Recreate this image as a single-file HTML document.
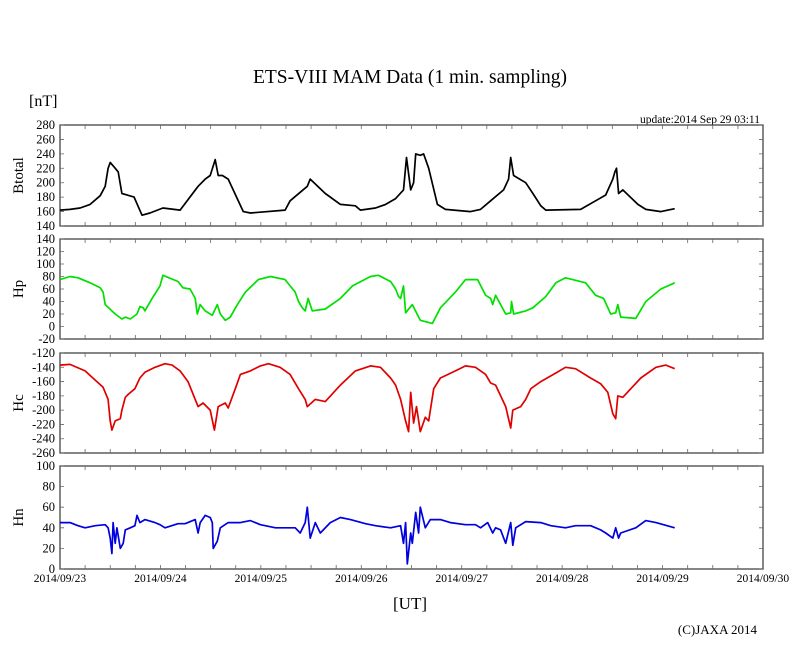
<!DOCTYPE html>
<html><head><meta charset="utf-8"><style>
html,body{margin:0;padding:0;background:#fff;}
svg{display:block;font-family:"Liberation Serif",serif;}
</style></head><body>
<svg id="chart" width="810" height="655" viewBox="0 0 810 655" xmlns="http://www.w3.org/2000/svg">
<text x="410" y="83" font-size="19.5" text-anchor="middle">ETS-VIII MAM Data (1 min. sampling)</text>
<text x="29" y="106" font-size="16">[nT]</text>
<text x="760" y="123" font-size="11.5" text-anchor="end">update:2014 Sep 29 03:11</text>
<text x="410" y="609" font-size="17" text-anchor="middle">[UT]</text>
<text x="757" y="634" font-size="13" text-anchor="end">(C)JAXA 2014</text>
<g id="plots"></g>
</svg>
<script>
const xDates = ["2014/09/23","2014/09/24","2014/09/25","2014/09/26","2014/09/27","2014/09/28","2014/09/29","2014/09/30"];
const btTimes = [0,2.4,4.8,7.2,9.6,10.8,11.5,12,12.9,13.9,14.8,17.7,19.6,21.5,24.6,28.7,33,34.7,35.9,37.1,37.8,38.8,40.2,43.8,45.5,53.8,55,59.1,59.8,63.4,67,70.6,71.8,75.4,77.8,80.2,82.1,82.8,83.8,84.5,85,86.1,86.9,88.1,90.2,92.1,98.1,100.5,102.9,106,107.2,107.7,108.4,111.3,113,114.9,116.1,124.4,128,130.4,132.1,132.6,133,133.5,134.5,138.1,140,143.6,146.9];
const btValues = [162,163,165,170,182,195,220,228,222,215,185,180,155,158,165,162,195,205,210,232,210,210,205,160,158,162,175,195,205,185,170,168,162,165,170,178,190,235,190,200,240,238,240,220,170,163,160,163,175,190,205,235,210,200,185,168,162,163,175,183,205,215,220,185,190,170,163,160,164];
const hpTimes = [0,2.4,4.3,7.2,9.6,10.3,10.8,13.2,14.8,15.6,16.8,18.4,19.1,19.9,20.3,22,23.9,24.6,28.2,29.4,31.1,32.3,32.8,33.5,34.7,36.4,37.6,38.3,39.5,40.7,42.4,44.3,47.4,50.3,53.8,55,56.2,57,57.9,58.6,59.3,60.3,63.4,67,69.9,74.2,76.1,79,80.2,80.9,81.4,82.1,82.6,84.2,86.1,89,90.9,94.5,96.9,99.8,101.7,102.9,103.4,104.1,106.5,107.7,107.9,108.4,111.3,113,116.1,118.5,120.8,125.6,128,129.9,131.6,132.8,133.3,134,137.6,140,143.6,146.9];
const hpValues = [75,80,78,70,62,55,35,20,12,15,12,20,32,30,25,45,65,82,72,62,60,45,20,35,25,18,35,20,10,15,35,55,75,80,75,65,55,40,30,25,45,25,28,45,65,80,82,72,60,48,45,65,22,35,10,5,30,55,75,75,50,45,35,50,20,22,40,20,25,30,48,70,78,70,50,45,20,22,35,15,13,40,60,70];
const hcTimes = [0,2.4,6,8.4,10.3,11.5,12,12.4,13.2,14.4,14.8,15.6,16.3,17.9,19.1,20.3,22.7,25.1,26.8,28.7,30.6,32.3,33,34.2,35.9,36.9,37.8,39.5,40.2,41.9,43.1,45.5,47.9,49.8,52.6,55,57,58.6,59.1,61,63.4,67,70.6,74.2,76.6,79,80.2,81.4,82.6,83.3,83.8,84.5,85.2,86.1,87.3,88.1,89.3,90.9,94.5,96.9,99.3,101.7,102.9,104.1,106.5,107.7,108.2,110.1,111.3,112.5,114.9,118.5,120.8,123.2,126.8,129.2,130.9,132.1,132.8,133.3,134.5,138.8,142.4,144.8,146.9];
const hcValues = [-137,-136,-145,-158,-168,-185,-215,-228,-215,-212,-200,-182,-178,-170,-155,-147,-140,-135,-137,-145,-160,-185,-195,-190,-200,-228,-195,-190,-197,-170,-150,-145,-138,-135,-140,-150,-170,-185,-195,-185,-188,-165,-145,-138,-140,-155,-165,-185,-215,-230,-175,-218,-195,-230,-210,-215,-170,-155,-145,-138,-140,-150,-162,-165,-195,-225,-200,-195,-185,-170,-160,-148,-140,-142,-155,-163,-175,-205,-212,-180,-182,-155,-140,-137,-142];
const hnTimes = [0,2.4,4.3,6,8.4,10.8,11.5,12,12.4,12.7,13.2,13.6,14.4,15.1,15.6,16.8,17.9,18.4,19.1,20.3,22.7,23.9,25.1,28.2,29.9,32.3,33,33.5,34.7,35.9,36.4,36.6,37.6,38.3,40.2,43.1,45.5,47.9,51.5,53.8,56.2,57.4,58.6,59.1,59.8,61,62.2,64.6,67,69.4,73,75.4,79,81.4,82.1,82.6,83,83.8,84.2,85,85.7,86.1,87.3,88.5,90.9,93.3,96.9,99.3,100.5,102.2,103.4,104.1,105.3,106.5,107.7,108.2,108.9,111.3,114.9,117.3,120.8,123.2,126.8,129.2,130.4,132.1,132.8,133.5,134,137.6,140,142.4,146.9];
const hnValues = [45,45,42,40,42,43,40,30,15,45,25,40,20,25,38,40,42,52,45,48,45,43,40,44,44,48,35,45,52,50,45,20,27,40,45,45,47,43,40,40,40,35,45,60,30,45,35,45,50,48,44,42,40,42,25,45,5,35,25,55,35,60,40,48,48,45,43,43,40,45,35,40,38,25,45,23,40,46,45,42,40,42,42,38,35,30,40,30,35,40,47,45,40];
const btTicks = [140,160,180,200,220,240,260,280];
const hpTicks = [-20,0,20,40,60,80,100,120,140];
const hcTicks = [-260,-240,-220,-200,-180,-160,-140,-120];
const hnTicks = [0,20,40,60,80,100];

const NS = "http://www.w3.org/2000/svg";
const g = document.getElementById("plots");
const X0 = 60, X1 = 763, HOURS = 168;
function xScale(h){ return X0 + (X1 - X0) * h / HOURS; }
function mk(tag, attrs){ const e = document.createElementNS(NS, tag); for (const k in attrs) e.setAttribute(k, attrs[k]); return e; }

const panels = [
  {name:"btotal", label:"Btotal", top:125, bottom:226, ticks:btTicks, times:btTimes, vals:btValues, color:"#000"},
  {name:"hp", label:"Hp", top:239, bottom:339, ticks:hpTicks, times:hpTimes, vals:hpValues, color:"#00e000"},
  {name:"hc", label:"Hc", top:353, bottom:453, ticks:hcTicks, times:hcTimes, vals:hcValues, color:"#e00000"},
  {name:"hn", label:"Hn", top:466, bottom:569, ticks:hnTicks, times:hnTimes, vals:hnValues, color:"#0000e0"}
];

panels.forEach(p => {
  const lo = p.ticks[0], hi = p.ticks[p.ticks.length-1];
  const yScale = v => p.bottom - (p.bottom - p.top) * (v - lo) / (hi - lo);
  const pg = mk("g", {});
  
  
  g.appendChild(pg);
  const frame = mk("rect", {x:X0, y:p.top, width:X1-X0, height:p.bottom-p.top, fill:"none", stroke:"#444", "stroke-width":1.3});
  
  
  pg.appendChild(frame);
  p.ticks.forEach(t => {
    const y = yScale(t);
    const tl = mk("path", {d:`M${X0} ${y}h4M${X1} ${y}h-4`, stroke:"#666", "stroke-width":0.8});
    
    
    pg.appendChild(tl);
    const tx = mk("text", {x:55, y:y+4, "font-size":12.5, "text-anchor":"end"});
    tx.textContent = t;
    
    
    pg.appendChild(tx);
  });
  for (let h = 6; h < HOURS; h += 6) {
    const x = xScale(h);
    const tk = mk("path", {d:`M${x} ${p.top}v4M${x} ${p.bottom}v-4`, stroke:"#666", "stroke-width":0.8});
    
    
    pg.appendChild(tk);
  }
  const cy = (p.top + p.bottom) / 2;
  const at = mk("text", {x:0, y:0, "font-size":15, "text-anchor":"middle", transform:`translate(23 ${cy}) rotate(-90)`});
  at.textContent = p.label;
  
  
  pg.appendChild(at);
  let d = "";
  p.times.forEach((t, i) => { d += (i ? "L" : "M") + xScale(t).toFixed(1) + " " + yScale(p.vals[i]).toFixed(1); });
  const line = mk("path", {d:d, fill:"none", stroke:p.color, "stroke-width":1.7, "stroke-linejoin":"round"});
  
  
  pg.appendChild(line);
});

xDates.forEach((lab, i) => {
  const t = mk("text", {x:xScale(i*24), y:582, "font-size":11.5, "text-anchor":"middle"});
  t.textContent = lab;
  
  
  g.appendChild(t);
});
</script>
</body></html>
